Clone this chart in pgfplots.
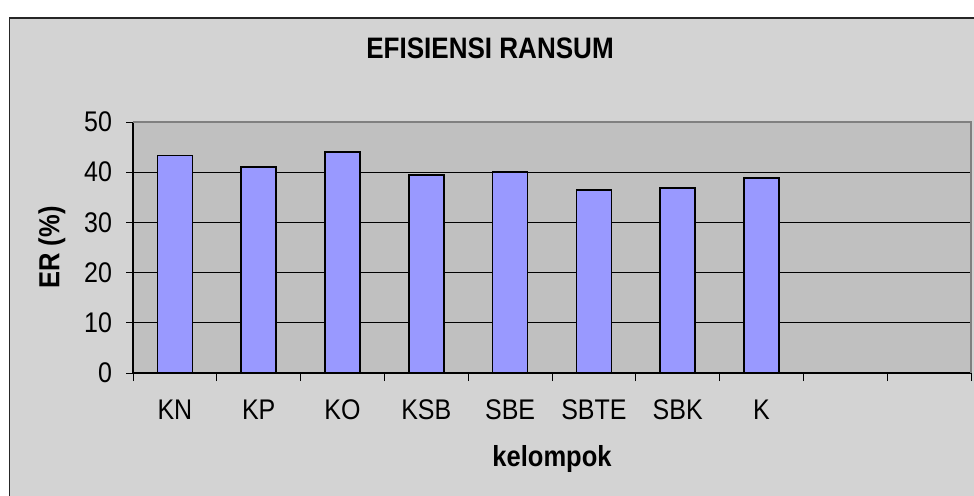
\documentclass[border=0pt]{standalone}
\usepackage{fontspec}
\setmainfont{Liberation Sans}[FakeStretch=0.88]
\usepackage{pgfplots}
\pgfplotsset{compat=1.18}
\definecolor{outerbg}{RGB}{211,211,211}
\definecolor{plotbg}{RGB}{192,192,192}
\definecolor{barfill}{RGB}{153,153,255}
\begin{document}
\begin{tikzpicture}[x=1pt,y=1pt]
\useasboundingbox (0,0) rectangle (487,247.5);
\fill[white] (0,0) rectangle (487,247.5);
\filldraw[fill=outerbg, draw=black!85, line width=0.7pt] (4.75,-5) rectangle (495,238.5);
\node[font=\fontsize{14.8}{17}\selectfont\bfseries] at (245,223.5) {EFISIENSI RANSUM};
\begin{axis}[
  at={(66.5pt,61pt)}, anchor=south west,
  width=419pt, height=125.5pt, scale only axis,
  xmin=-0.5, xmax=9.5, ymin=0, ymax=50,
  ytick={0,10,...,50},
  xtick={0,...,7},
  xticklabels={KN,KP,KO,KSB,SBE,SBTE,SBK,K},
  minor xtick={-0.5,0.5,...,9.5},
  major x tick style={draw=none},
  tick align=outside,
  major tick length=3.5pt,
  minor tick length=4pt,
  tick style={black, line width=0.5pt},
  xtick pos=bottom, ytick pos=left,
  ymajorgrids, grid style={black, line width=0.5pt},
  axis background/.style={fill=plotbg},
  axis x line*=bottom, axis y line*=left,
  axis line style={black, line width=0.6pt},
  /pgf/number format/assume math mode=true,
  tick label style={font=\fontsize{14.2}{16}\selectfont},
  yticklabel style={xshift=-3.5pt},
  xticklabel style={yshift=-6.5pt},
  xlabel={kelompok}, ylabel={ER (\%)},
  label style={font=\fontsize{14.5}{16}\selectfont\bfseries},
  xlabel style={at={(axis description cs:0.5,-0.3426)}, anchor=center},
  ylabel style={at={(axis description cs:-0.0967,0.5)}, anchor=center},
  clip=false,
]
\addplot[ybar, bar width=17.5pt, fill=barfill, draw=black, line width=0.8pt]
  coordinates {(0,43.3) (1,41.0) (2,44.0) (3,39.4) (4,40.1) (5,36.4) (6,36.8) (7,38.8)};
\draw[gray, line width=0.7pt] (rel axis cs:0,1) -- (rel axis cs:1,1) -- (rel axis cs:1,0);
\end{axis}
\end{tikzpicture}
\end{document}
